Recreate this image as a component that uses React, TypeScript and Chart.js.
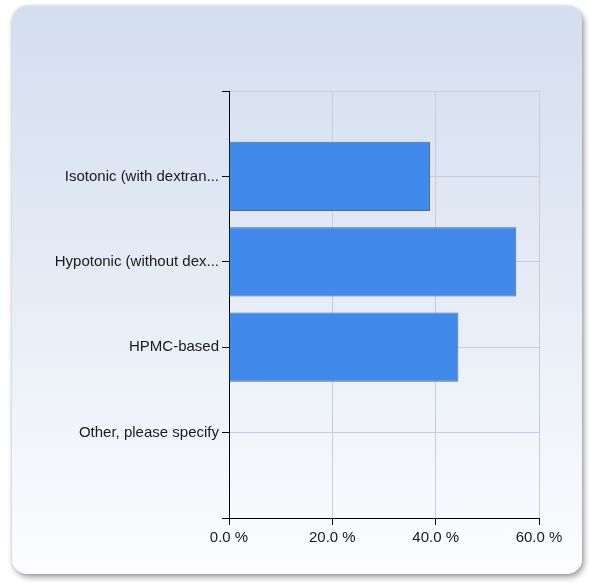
import React, { useEffect, useRef } from "react";
import { Chart, registerables } from "chart.js";

Chart.register(...registerables);

const categories = [
  "",
  "Isotonic (with dextran...",
  "Hypotonic (without dex...",
  "HPMC-based",
  "Other, please specify",
  "",
];
const percentages = [null, 38.9, 55.6, 44.4, 0, null];
const xTicks = [0, 20, 40, 60];

export default function App() {
  const ref = useRef<HTMLCanvasElement | null>(null);

  useEffect(() => {
    if (!ref.current) return;
    const chart = new Chart(ref.current, {
      type: "bar",
      data: {
        labels: categories,
        datasets: [
          {
            data: percentages as any,
            backgroundColor: "#418aeb",
            borderColor: "#4d6a94",
            borderWidth: 1,
            categoryPercentage: 1,
            barPercentage: 0.81,
          },
        ],
      },
      options: {
        indexAxis: "y",
        animation: false,
        responsive: false,
        maintainAspectRatio: false,
        layout: { padding: { left: 0, top: 91, right: 50, bottom: 25 } },
        plugins: { legend: { display: false }, tooltip: { enabled: false }, title: { display: false } },
        scales: {
          x: {
            type: "linear",
            min: xTicks[0],
            max: xTicks[xTicks.length - 1],
            afterBuildTicks: (s: any) => {
              s.ticks = xTicks.map((v) => ({ value: v }));
            },
            afterFit: (s: any) => {
              s.height = 40;
            },
            ticks: {
              padding: 4,
              color: "#1a1a1a",
              font: { family: "'Liberation Sans', Arial, sans-serif", size: 15 },
              callback: (v: any) => Number(v).toFixed(1) + " %",
            },
            grid: { color: "#c9ced6", tickColor: "#000", tickLength: 7, lineWidth: 1 },
            border: { color: "#000", width: 1 },
          },
          y: {
            type: "category",
            offset: false,
            afterFit: (s: any) => {
              s.width = 229;
            },
            ticks: {
              padding: 3,
              autoSkip: false,
              color: "#1a1a1a",
              font: { family: "'Liberation Sans', Arial, sans-serif", size: 15 },
            },
            grid: { offset: false, color: "#c9ced6", tickColor: "#000", tickLength: 7, lineWidth: 1 },
            border: { color: "#000", width: 1 },
          },
        },
      },
    });
    return () => chart.destroy();
  }, []);

  return (
    <div style={{ position: "fixed", left: 0, top: 0, width: 589, height: 583, background: "#fff" }}>
      <div
        style={{
          position: "absolute",
          left: 12,
          top: 6,
          width: 570,
          height: 568,
          borderRadius: 15,
          background: "linear-gradient(to bottom, #d3deef 0%, #e6ecf6 50%, #fdfdff 100%)",
          boxShadow: "2px 3px 6px rgba(0,0,0,0.4), 0 0 3px rgba(0,0,0,0.12)",
        }}
      />
      <canvas
        ref={ref}
        width={589}
        height={583}
        style={{ position: "absolute", left: 0, top: 0, width: 589, height: 583 }}
      />
    </div>
  );
}
